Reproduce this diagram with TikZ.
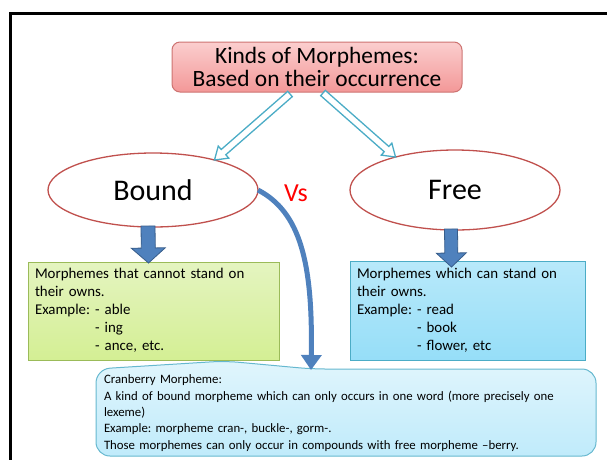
\documentclass[tikz,border=0pt]{standalone}
\usepackage{fontspec}
\setmainfont{Carlito}
\usepackage{tikz}
\usetikzlibrary{shapes,arrows.meta,positioning,calc}
\definecolor{ovalred}{RGB}{192,80,77}
\definecolor{titletop}{RGB}{251,206,206}
\definecolor{titlebot}{RGB}{243,152,152}
\definecolor{greenline}{RGB}{155,187,89}
\definecolor{greentop}{RGB}{228,244,192}
\definecolor{greenbot}{RGB}{212,239,148}
\definecolor{aqualine}{RGB}{75,172,198}
\definecolor{aquatop}{RGB}{184,233,250}
\definecolor{aquabot}{RGB}{150,222,248}
\definecolor{crantop}{RGB}{224,245,252}
\definecolor{cranbot}{RGB}{192,235,251}
\definecolor{arrowblue}{RGB}{79,129,189}
\definecolor{arrowedge}{RGB}{56,93,138}
\frenchspacing

% block arrow: style, from, to, half shaft, half head, head length
\newcommand{\blockarrow}[6]{%
  \coordinate (neck) at ($(#3)!#6!(#2)$);
  \draw[#1] ($(#2)!#4!90:(#3)$) -- ($(neck)!#4!90:(#3)$) -- ($(neck)!#5!90:(#3)$)
    -- (#3) -- ($(neck)!#5!-90:(#3)$) -- ($(neck)!#4!-90:(#3)$)
    -- ($(#2)!#4!-90:(#3)$) -- cycle;}

\begin{document}
\begin{tikzpicture}[x=1pt,y=-1pt,
  every node/.style={inner sep=0pt, outer sep=0pt},
  titlebox/.style={draw=ovalred!80, line width=1pt, rounded corners=8pt, top color=titletop, bottom color=titlebot,
    minimum width=290pt, minimum height=50pt, align=center, font=\fontsize{23.4}{23}\selectfont},
  kindoval/.style={ellipse, draw=ovalred, line width=1.3pt, minimum width=210pt, font=\fontsize{30}{30}\selectfont},
  boundbox/.style={draw=greenline, line width=1pt, top color=greentop, bottom color=greenbot, anchor=north west,
    inner xsep=7pt, align=left, font=\fontsize{14.9}{18}\selectfont},
  freebox/.style={draw=aqualine, line width=1pt, top color=aquatop, bottom color=aquabot, anchor=north west,
    inner xsep=7pt, align=left, font=\fontsize{14.9}{18}\selectfont},
  cranbox/.style={draw=aqualine!85, line width=1pt, rounded corners=14pt, top color=crantop, bottom color=cranbot},
  hollowarrow/.style={draw=aqualine, fill=white, line width=1.3pt},
  blockdown/.style={draw=arrowedge, fill=arrowblue, line width=0.8pt},
  curvearrow/.style={draw=arrowblue, line width=5pt, -{Triangle[width=20pt,length=15pt]}}]
\useasboundingbox (0,0) rectangle (607,459);
\clip (0,0) rectangle (607,459);

% slide frame
\draw[line width=3pt] (10,13.5) rectangle (620,475);

% title and the two kinds
\node[titlebox] (title) at (317,67) {Kinds of Morphemes:\\Based on their occurrence};
\node[kindoval, minimum height=74pt] (bound) at (153,190) {Bound};
\node[kindoval, minimum height=80pt] (free) at (455,190) {Free};
\node[text=red, font=\fontsize{26}{26}\selectfont] (vs) at (296,193) {Vs};

% descriptions
\node[boundbox, minimum width=251pt, minimum height=98pt, text width=237pt] (boundtxt) at (28,262)
  {Morphemes that cannot stand on\\ their owns.\\ Example: - able\\ \phantom{Example: }- ing\\ \phantom{Example: }- ance, etc.};
\node[freebox, minimum width=235pt, minimum height=99pt, text width=221pt] (freetxt) at (350,261)
  {Morphemes which can stand on\\ their owns.\\ Example: - read\\ \phantom{Example: }- book\\ \phantom{Example: }- flower, etc};

% cranberry callout
\draw[cranbox] (96,420) -- (96,369) -- (225,361) -- (312,369) -- (596,369) -- (596,456) -- (96,456) -- cycle;
\node[anchor=west, text width=485pt, align=left, font=\fontsize{12.8}{16.3}\selectfont] (cran) at (104,413)
  {Cranberry Morpheme:\\
   A kind of bound morpheme which can only occurs in one word (more precisely one\\ lexeme)\\
   Example: morpheme cran-, buckle-, gorm-.\\
   Those morphemes can only occur in compounds with free morpheme –berry.};

% arrows from the title
\coordinate (lefttail) at ($(title.south)+(-27,2)$);
\coordinate (righttail) at ($(title.south)+(6,1)$);
\blockarrow{hollowarrow}{lefttail}{bound.26}{3.5pt}{8pt}{12pt}
\blockarrow{hollowarrow}{righttail}{free.151}{3.5pt}{8pt}{12pt}

% arrows down to the descriptions
\coordinate (boundtop) at ($(bound.south)+(-5,-1)$);
\coordinate (boundtip) at ($(boundtxt.north)+(-5,1)$);
\coordinate (freetop) at ($(free.south)+(-4,-1)$);
\coordinate (freetip) at ($(freetxt.north)+(-16,6)$);
\blockarrow{blockdown}{boundtop}{boundtip}{7pt}{17pt}{15pt}
\blockarrow{blockdown}{freetop}{freetip}{6.5pt}{15pt}{14pt}

% bound to cranberry
\coordinate (cranhit) at (311,370);
\draw[curvearrow] (bound.east) .. controls (300,212) and (313,262) .. (cranhit);
\end{tikzpicture}
\end{document}
